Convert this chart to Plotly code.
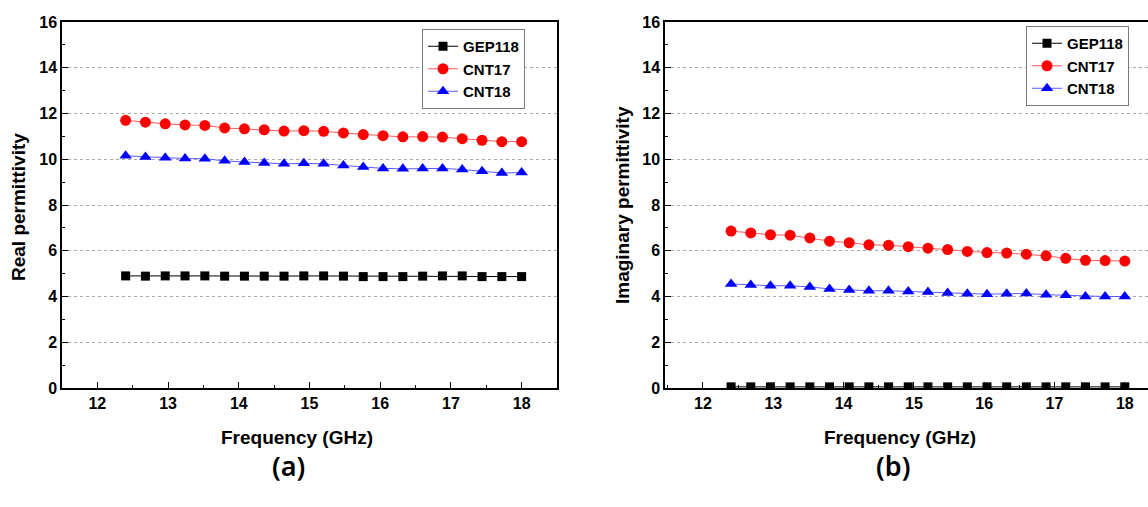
import plotly.graph_objects as go

freq = [12.40, 12.68, 12.96, 13.24, 13.52, 13.80, 14.08, 14.36, 14.64, 14.92, 15.20,
        15.48, 15.76, 16.04, 16.32, 16.60, 16.88, 17.16, 17.44, 17.72, 18.00]

real_gep118 = [4.90, 4.89, 4.90, 4.90, 4.90, 4.89, 4.89, 4.89, 4.89, 4.90, 4.90,
               4.89, 4.87, 4.87, 4.87, 4.89, 4.90, 4.90, 4.87, 4.87, 4.87]
real_cnt17 = [11.70, 11.62, 11.55, 11.50, 11.48, 11.37, 11.33, 11.29, 11.23, 11.25, 11.22,
              11.15, 11.08, 11.03, 10.98, 10.99, 10.97, 10.90, 10.83, 10.77, 10.77]
real_cnt18 = [10.15, 10.10, 10.07, 10.03, 10.02, 9.93, 9.88, 9.84, 9.80, 9.82, 9.80,
              9.73, 9.66, 9.60, 9.58, 9.60, 9.60, 9.55, 9.48, 9.40, 9.42]

imag_gep118 = [0.05, 0.05, 0.05, 0.05, 0.05, 0.05, 0.05, 0.05, 0.05, 0.05, 0.05,
               0.05, 0.05, 0.05, 0.05, 0.05, 0.05, 0.05, 0.05, 0.05, 0.05]
imag_cnt17 = [6.86, 6.78, 6.70, 6.68, 6.56, 6.42, 6.35, 6.26, 6.24, 6.18, 6.11,
              6.05, 5.97, 5.92, 5.90, 5.85, 5.78, 5.67, 5.58, 5.57, 5.55]
imag_cnt18 = [4.55, 4.50, 4.47, 4.47, 4.42, 4.33, 4.28, 4.25, 4.25, 4.22, 4.20,
              4.15, 4.12, 4.10, 4.12, 4.13, 4.08, 4.05, 4.00, 4.00, 4.00]

series_names = ["GEP118", "CNT17", "CNT18"]
x_ticks = [12, 13, 14, 15, 16, 17, 18]
y_ticks = [0, 2, 4, 6, 8, 10, 12, 14, 16]

W, H = 1148, 507
FONT = "Liberation Sans, Arial, sans-serif"

styles = [
    dict(line=dict(color="black", width=1), marker=dict(symbol="square", size=9, color="black")),
    dict(line=dict(color="rgb(255,90,90)", width=1), marker=dict(symbol="circle", size=11, color="rgb(255,0,0)")),
    dict(line=dict(color="rgb(90,90,255)", width=1), marker=dict(symbol="triangle-up", size=11, color="rgb(0,0,255)")),
]

fig = go.Figure()
for data, st, name in zip([real_gep118, real_cnt17, real_cnt18], styles, series_names):
    fig.add_trace(go.Scatter(x=freq, y=data, mode="lines+markers", name=name,
                             xaxis="x", yaxis="y", legend="legend", **st))
for data, st, name in zip([imag_gep118, imag_cnt17, imag_cnt18], styles, series_names):
    fig.add_trace(go.Scatter(x=freq, y=data, mode="lines+markers", name=name,
                             xaxis="x2", yaxis="y2", legend="legend2", **st))

def px_x(p):
    return p / W

def px_y(p):
    return 1 - p / H

ydom = [px_y(388), px_y(22)]

common_x = dict(
    tickvals=x_ticks, ticks="inside", ticklen=6, tickwidth=1.2, tickcolor="black",
    showline=True, linecolor="black", linewidth=1.5, showgrid=False, zeroline=False,
    tickfont=dict(family=FONT, size=16, color="black", weight="bold"),
    minor=dict(ticks="inside", ticklen=3, dtick=0.5, tick0=0, tickcolor="black", showgrid=False),
)
common_y = dict(
    range=[0, 16], tickvals=y_ticks, ticks="inside", ticklen=6, tickwidth=1.2, tickcolor="black",
    showline=True, linecolor="black", linewidth=1.5, zeroline=False,
    showgrid=True, gridcolor="#a8a8a8", griddash="dot", gridwidth=1,
    tickfont=dict(family=FONT, size=16, color="black", weight="bold"),
    minor=dict(ticks="inside", ticklen=3, dtick=1, tick0=0, tickcolor="black", showgrid=False),
)

legend_common = dict(xanchor="left", yanchor="top", bordercolor="#7a7a7a", borderwidth=1,
                     bgcolor="white", font=dict(family=FONT, size=15, color="black", weight="bold"),
                     tracegroupgap=0, itemwidth=30)

fig.update_layout(
    width=W, height=H, margin=dict(l=0, r=0, t=0, b=0, autoexpand=False),
    paper_bgcolor="white", plot_bgcolor="white",
    xaxis=dict(domain=[px_x(62), px_x(557)], range=[11.5, 18.5], anchor="y", mirror=True, **common_x),
    yaxis=dict(domain=ydom, anchor="x", mirror=True, **common_y),
    xaxis2=dict(domain=[px_x(665), 1.0], range=[11.46, 18.33], anchor="y2", mirror=True, **common_x),
    yaxis2=dict(domain=ydom, anchor="x2", mirror=False, **common_y),
    legend=dict(x=px_x(422), y=px_y(29), **legend_common),
    legend2=dict(x=px_x(1026), y=px_y(26), **legend_common),
    showlegend=True,
)

annos = [
    dict(text="Real permittivity", x=px_x(18), y=px_y(207), textangle=-90),
    dict(text="Imaginary permittivity", x=px_x(622), y=px_y(205), textangle=-90),
    dict(text="Frequency (GHz)", x=px_x(297), y=px_y(437)),
    dict(text="Frequency (GHz)", x=px_x(900), y=px_y(437)),
]
for a in annos:
    fig.add_annotation(xref="paper", yref="paper", showarrow=False, xanchor="center", yanchor="middle",
                       font=dict(family=FONT, size=19, color="black", weight="bold"), **a)
for t, xp in [("(a)", 288), ("(b)", 893)]:
    fig.add_annotation(text=t, xref="paper", yref="paper", x=px_x(xp), y=px_y(465), showarrow=False,
                       xanchor="center", yanchor="middle",
                       font=dict(family="Noto Sans, sans-serif", size=27, color="black", weight=600))

fig.write_html("out.html", config={"displayModeBar": False},
               post_script="document.body.style.margin='0';document.body.style.overflow='hidden';")
